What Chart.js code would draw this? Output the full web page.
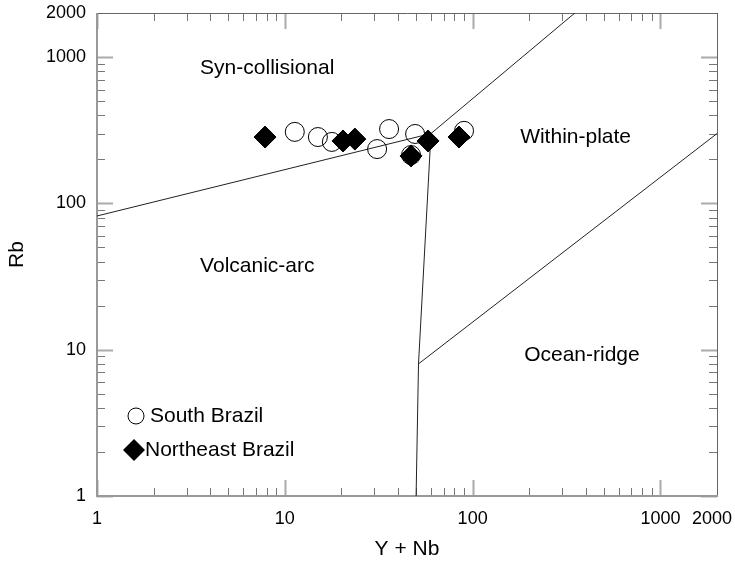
<!DOCTYPE html>
<html>
<head>
<meta charset="utf-8">
<script src="https://cdn.jsdelivr.net/npm/chart.js@4/dist/chart.umd.min.js"></script>
<style>
  html, body { margin: 0; padding: 0; background: #fff; }
  #wrap { width: 735px; height: 564px; }
</style>
</head>
<body>
<div id="wrap"><canvas id="c" width="735" height="564"></canvas></div>
<script>
// ---- data ----
const southX = [11.3, 15.0, 17.8, 35.9, 31.0, 49.4, 90.0, 47.0];
const southY = [308, 284, 263, 322, 235, 298, 313, 214];
const northeastX = [7.85, 20.4, 23.6, 57.9, 84.6, 47.0];
const northeastY = [284, 267, 275, 267, 284, 211];

// discrimination boundaries
const lineVagSynX = [1, 60];
const lineVagSynY = [82, 300];
const lineWpgSynX = [60, 350];
const lineWpgSynY = [300, 2000];
const lineVagWpgX = [50, 51.5, 60];
const lineVagWpgY = [1, 8, 300];
const lineOrgWpgX = [51.5, 2000];
const lineOrgWpgY = [8, 300];

// field labels
const fieldNames = ["Syn-collisional", "Within-plate", "Volcanic-arc", "Ocean-ridge"];
const fieldX = [3.54, 179, 3.54, 188];
const fieldY = [842, 284, 37.3, 9.2];

// axis tick labels
const xTickLabels = [1, 10, 100, 1000, 2000];
const yTickLabels = [1, 10, 100, 1000, 2000];

const FONT = '"Liberation Sans", Arial, sans-serif';

function pts(xs, ys) { return xs.map((x, i) => ({ x: x, y: ys[i] })); }

function lineDs(xs, ys) {
  return {
    label: '_line', data: pts(xs, ys), showLine: true, pointRadius: 0,
    borderColor: '#222', borderWidth: 1, fill: false, order: 5
  };
}

const ticksPlugin = {
  id: 'inTicks',
  beforeDatasetsDraw(chart) {
    const { ctx, chartArea: a, scales } = chart;
    ctx.save();
    const decades = [1, 10, 100, 1000];
    const vals = [];
    decades.forEach(d => { for (let m = 1; m <= 9; m++) { const v = d * m; if (v <= 2000) vals.push({ v, major: m === 1 }); } });
    // x ticks (bottom & top)
    vals.forEach(t => {
      const px = Math.round(scales.x.getPixelForValue(t.v)) + 0.5;
      const len = t.major ? 16 : 8;
      ctx.strokeStyle = t.major ? '#aaa' : '#777';
      ctx.lineWidth = t.major ? 2 : 1;
      ctx.beginPath();
      ctx.moveTo(px, a.bottom); ctx.lineTo(px, a.bottom - len);
      ctx.moveTo(px, a.top); ctx.lineTo(px, a.top + len);
      ctx.stroke();
    });
    // y ticks (left & right)
    vals.forEach(t => {
      const py = Math.round(scales.y.getPixelForValue(t.v)) + 0.5;
      const len = t.major ? 16 : 8;
      ctx.strokeStyle = t.major ? '#aaa' : '#777';
      ctx.lineWidth = t.major ? 2 : 1;
      ctx.beginPath();
      ctx.moveTo(a.left, py); ctx.lineTo(a.left + len, py);
      ctx.moveTo(a.right, py); ctx.lineTo(a.right - len, py);
      ctx.stroke();
    });
    // frame
    ctx.strokeStyle = '#666';
    ctx.lineWidth = 1;
    ctx.beginPath();
    ctx.moveTo(a.left, a.top + 0.5); ctx.lineTo(a.right + 0.5, a.top + 0.5);
    ctx.lineTo(a.right + 0.5, a.bottom);
    ctx.stroke();
    ctx.strokeStyle = '#999';
    ctx.lineWidth = 2;
    ctx.beginPath();
    ctx.moveTo(a.left, a.top); ctx.lineTo(a.left, a.bottom); ctx.lineTo(a.right + 1, a.bottom);
    ctx.stroke();

    // field labels
    ctx.fillStyle = '#000';
    ctx.font = '21px ' + FONT;
    ctx.textAlign = 'left';
    ctx.textBaseline = 'middle';
    fieldNames.forEach((n, i) => {
      ctx.fillText(n, scales.x.getPixelForValue(fieldX[i]), scales.y.getPixelForValue(fieldY[i]));
    });
    ctx.restore();
  },
  afterDatasetsDraw(chart) {
    const { ctx, chartArea: a } = chart;
    ctx.save();
    ctx.font = '21px ' + FONT;
    ctx.fillStyle = '#000';
    ctx.textAlign = 'left';
    ctx.textBaseline = 'middle';
    const ds = chart.data.datasets;
    const s = ds.find(d => d.label === 'South Brazil');
    const n = ds.find(d => d.label === 'Northeast Brazil');
    let cx = a.left + 39, cy = a.bottom - 80;
    ctx.beginPath();
    ctx.arc(cx, cy, 8, 0, Math.PI * 2);
    ctx.strokeStyle = s.borderColor; ctx.lineWidth = 1;
    ctx.stroke();
    ctx.fillText(s.label, cx + 14, cy);
    cx = a.left + 37; cy = a.bottom - 46;
    ctx.beginPath();
    ctx.moveTo(cx - 11, cy); ctx.lineTo(cx, cy - 11); ctx.lineTo(cx + 11, cy); ctx.lineTo(cx, cy + 11);
    ctx.closePath();
    ctx.fillStyle = n.backgroundColor; ctx.fill();
    ctx.fillStyle = '#000';
    ctx.fillText(n.label, cx + 11, cy);
    ctx.restore();
  }
};

new Chart(document.getElementById('c'), {
  type: 'scatter',
  data: {
    datasets: [
      {
        label: 'Northeast Brazil', data: pts(northeastX, northeastY),
        pointStyle: 'rectRot', pointRadius: 11, backgroundColor: '#000',
        borderColor: '#000', borderWidth: 1, order: 0
      },
      {
        label: 'South Brazil', data: pts(southX, southY),
        pointStyle: 'circle', pointRadius: 9.5, backgroundColor: 'rgba(0,0,0,0)',
        borderColor: '#000', borderWidth: 1, order: 1
      },
      lineDs(lineVagSynX, lineVagSynY),
      lineDs(lineWpgSynX, lineWpgSynY),
      lineDs(lineVagWpgX, lineVagWpgY),
      lineDs(lineOrgWpgX, lineOrgWpgY)
    ]
  },
  options: {
    responsive: false,
    animation: false,
    events: [],
    layout: { padding: { top: 13, right: 18, left: 0, bottom: 0 } },
    plugins: { legend: { display: false }, tooltip: { enabled: false } },
    scales: {
      x: {
        type: 'logarithmic', min: 1, max: 2000,
        grid: { display: false, drawTicks: false },
        border: { display: false },
        ticks: {
          autoSkip: false, maxRotation: 0, minRotation: 0, padding: 12,
          color: '#000', font: { size: 18, family: FONT },
          callback: (v) => xTickLabels.includes(v) ? (v === 2000 ? String(v) + '  ' : String(v)) : ''
        },
        title: { display: true, text: 'Y + Nb', color: '#000', font: { size: 21, family: FONT }, padding: { top: 4, bottom: 2 } },
        afterFit(s) { s.height = 68; s.paddingLeft = 0; s.paddingRight = 0; }
      },
      y: {
        type: 'logarithmic', min: 1, max: 2000,
        grid: { display: false, drawTicks: false },
        border: { display: false },
        ticks: {
          autoSkip: false, padding: 11,
          color: '#000', font: { size: 18, family: FONT },
          callback: (v) => yTickLabels.includes(v) ? String(v) : ''
        },
        title: { display: true, text: 'Rb', color: '#000', font: { size: 21, family: FONT }, padding: { top: 5, bottom: 4 } },
        afterFit(s) { s.width = 97; s.paddingTop = 0; s.paddingBottom = 0; }
      }
    }
  },
  plugins: [ticksPlugin]
});
</script>
</body>
</html>
